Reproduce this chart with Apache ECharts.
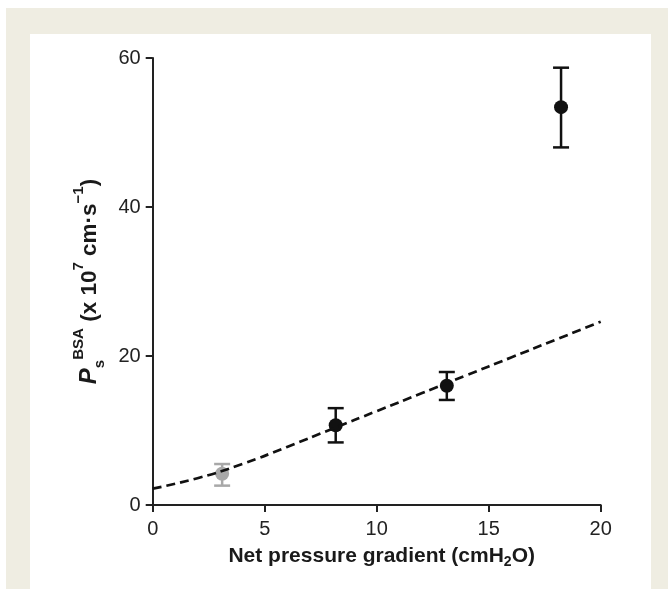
<!DOCTYPE html>
<html>
<head>
<meta charset="utf-8">
<script src="https://cdn.jsdelivr.net/npm/echarts@6/dist/echarts.min.js"></script>
<style>html,body{margin:0;padding:0;background:#fff}#c{width:668px;height:589px}</style>
</head>
<body>
<div id="c"></div>
<script>
// Measured points (mean, lower, upper)
var pointX = [3.1, 8.17, 13.13, 18.23];
var pointY = [4.2, 10.7, 16.0, 53.4];
var errLow = [2.6, 8.4, 14.1, 48.0];
var errHigh = [5.5, 13.0, 17.85, 58.7];
var pointColors = ['#a8a8a8', '#111111', '#111111', '#111111'];
// Dashed fit curve
var fitX = [0, 2, 4, 6, 8, 10, 12, 14, 16, 18, 20];
var fitY = [2.2, 3.6, 5.5, 7.8, 10.2, 12.6, 15.0, 17.4, 19.8, 22.2, 24.6];
// Axis ticks
var xTicks = [0, 5, 10, 15, 20];
var yTicks = [0, 20, 40, 60];

var font = '"Liberation Sans", Arial, Helvetica, sans-serif';
var ink = '#1a1a1a';
var chart = echarts.init(document.getElementById('c'), null, {renderer: 'canvas'});

var scatterData = pointX.map(function (x, i) {
  return {value: [x, pointY[i]], itemStyle: {color: pointColors[i], opacity: 1}};
});
var errData = pointX.map(function (x, i) { return [x, errLow[i], errHigh[i], i]; });
var fitData = fitX.map(function (x, i) { return [x, fitY[i]]; });

chart.setOption({
  backgroundColor: '#ffffff',
  animation: false,
  graphic: [
    {type: 'rect', z: -100, shape: {x: 6, y: 8, width: 662, height: 581}, style: {fill: '#efede2'}},
    {type: 'rect', z: -99, shape: {x: 30, y: 34, width: 621, height: 555}, style: {fill: '#ffffff'}}
  ],
  grid: {left: 152.7, right: 67.3, top: 58, bottom: 84, containLabel: false},
  xAxis: {
    type: 'value', min: xTicks[0], max: xTicks[xTicks.length - 1], interval: 5,
    name: '{t|Net pressure gradient (cmH}{sub|2}{t|O)}',
    nameLocation: 'middle', nameGap: 38,
    nameTextStyle: {
      padding: [0, 0, 0, 10],
      rich: {
        t: {fontFamily: font, fontSize: 21, fontWeight: 'bold', color: ink, lineHeight: 26},
        sub: {fontFamily: font, fontSize: 14, fontWeight: 'bold', color: ink, lineHeight: 16, verticalAlign: 'bottom'}
      }
    },
    axisLine: {show: true, onZero: false, lineStyle: {color: '#222', width: 2}},
    axisTick: {show: true, length: 7, lineStyle: {color: '#222', width: 2}},
    axisLabel: {fontFamily: font, fontSize: 20, color: '#222', margin: 14},
    splitLine: {show: false}
  },
  yAxis: {
    type: 'value', min: yTicks[0], max: yTicks[yTicks.length - 1], interval: 20,
    name: '{p|P}{sub|s}{sup|BSA}{t| (x 10}{sup2|7}{t| cm·s}{sup2|−1}{t|)}',
    nameLocation: 'middle', nameGap: 43, nameRotate: 90,
    nameTextStyle: {
      rich: {
        p: {fontFamily: font, fontSize: 24, fontWeight: 'bold', fontStyle: 'italic', color: ink, lineHeight: 36},
        t: {fontFamily: font, fontSize: 22.5, fontWeight: 'bold', color: ink, lineHeight: 36},
        sub: {fontFamily: font, fontSize: 15, fontWeight: 'bold', color: ink, lineHeight: 15, verticalAlign: 'bottom'},
        sup: {fontFamily: font, fontSize: 15, fontWeight: 'bold', color: ink, lineHeight: 15, verticalAlign: 'top'},
        sup2: {fontFamily: font, fontSize: 15, fontWeight: 'bold', color: ink, lineHeight: 24, verticalAlign: 'top'}
      }
    },
    axisLine: {show: true, onZero: false, lineStyle: {color: '#222', width: 2}},
    axisTick: {show: true, length: 7, lineStyle: {color: '#222', width: 2}},
    axisLabel: {fontFamily: font, fontSize: 20, color: '#222', margin: 12},
    splitLine: {show: false}
  },
  series: [
    {
      type: 'custom',
      z: 3,
      data: errData,
      encode: {x: 0, y: [1, 2]},
      renderItem: function (params, api) {
        var x = api.value(0);
        var lo = api.coord([x, api.value(1)]);
        var hi = api.coord([x, api.value(2)]);
        var idx = api.value(3);
        var col = pointColors[idx];
        var hw = 8;
        var st = {stroke: col, lineWidth: 2.5};
        return {
          type: 'group',
          children: [
            {type: 'line', shape: {x1: lo[0], y1: lo[1], x2: hi[0], y2: hi[1]}, style: st},
            {type: 'line', shape: {x1: lo[0] - hw, y1: lo[1], x2: lo[0] + hw, y2: lo[1]}, style: st},
            {type: 'line', shape: {x1: hi[0] - hw, y1: hi[1], x2: hi[0] + hw, y2: hi[1]}, style: st}
          ]
        };
      }
    },
    {
      type: 'scatter',
      z: 4,
      symbol: 'circle',
      symbolSize: 14,
      itemStyle: {opacity: 1},
      data: scatterData
    },
    {
      type: 'line',
      z: 5,
      data: fitData,
      smooth: true,
      showSymbol: false,
      symbol: 'none',
      lineStyle: {color: '#111', width: 2.7, type: [9, 5]}
    }
  ]
});
</script>
</body>
</html>
